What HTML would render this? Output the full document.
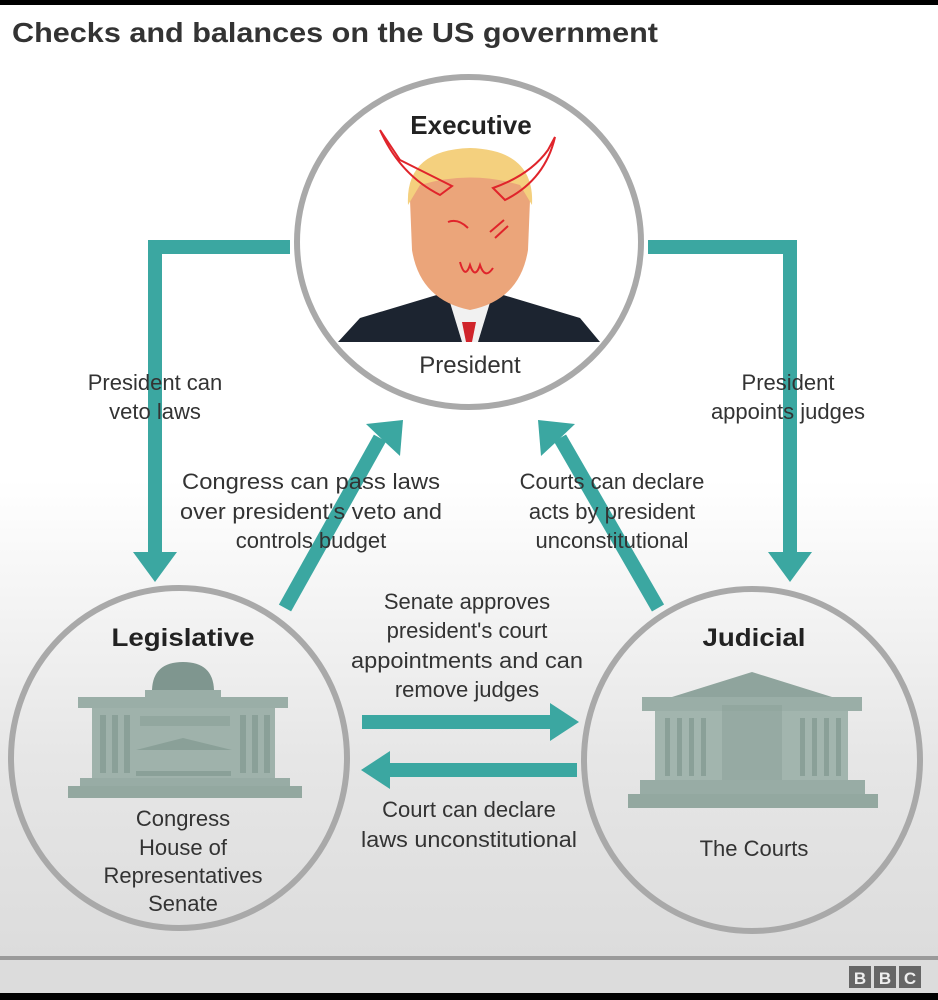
<!DOCTYPE html>
<html><head><meta charset="utf-8"><style>
html,body{margin:0;padding:0}
body{width:938px;height:1000px;overflow:hidden;position:relative;font-family:"Liberation Sans",sans-serif;background:linear-gradient(#fff 0,#fff 480px,#e6e6e6 760px,#dcdcdc 960px)}
svg{position:absolute;left:0;top:0}
</style></head><body>
<svg width="938" height="1000" viewBox="0 0 938 1000" font-family="Liberation Sans, sans-serif">
<rect x="0" y="0" width="938" height="5" fill="#000"/>
<text x="12" y="42" font-size="28" font-weight="bold" fill="#333" textLength="646" lengthAdjust="spacingAndGlyphs">Checks and balances on the US government</text>

<!-- teal arrows -->
<g fill="none" stroke="#3ba7a1" stroke-width="14">
<polyline points="290,247 155,247 155,565"/>
<polyline points="648,247 790,247 790,565"/>
<line x1="285" y1="608" x2="380" y2="438"/>
<line x1="658" y1="608" x2="560" y2="438"/>
<line x1="362" y1="722" x2="560" y2="722"/>
<line x1="577" y1="770" x2="380" y2="770"/>
</g>
<g fill="#3ba7a1">
<polygon points="133,552 177,552 155,582"/>
<polygon points="768,552 812,552 790,582"/>
<polygon points="366,424 403,420 400,456 386,443"/>
<polygon points="575,424 538,420 541,456 555,443"/>
<polygon points="550,703 579,722 550,741"/>
<polygon points="390,751 361,770 390,789"/>
</g>

<!-- circles -->
<g fill="none" stroke="#a9a9a9" stroke-width="6">
<ellipse cx="469" cy="242" rx="172" ry="165" fill="#fff"/>
<ellipse cx="179" cy="758" rx="168" ry="170"/>
<ellipse cx="752" cy="760" rx="168" ry="171"/>
</g>

<!-- president -->
<path d="M338,342 L360,318 L440,294 L500,294 L580,318 L600,342 Z" fill="#1c2430"/>
<polygon points="448,296 492,296 478,342 462,342" fill="#f1f1f1"/>
<polygon points="462,322 476,322 472,342 466,342" fill="#d0242b"/>
<path d="M410,200 Q410,155 470,152 Q530,155 530,200 L528,250 Q520,300 470,310 Q420,300 412,250 Z" fill="#eba57a"/>
<path d="M408,205 Q405,150 470,148 Q535,150 532,205 L520,185 Q470,170 420,185 Z" fill="#f4d07e"/>
<g fill="none" stroke="#e0242b" stroke-width="2">
<path d="M380,130 Q400,175 440,195 L452,186 Q420,170 400,160 Z"/>
<path d="M555,137 Q545,180 505,200 L493,188 Q530,175 548,150 Z"/>
<path d="M448,222 Q458,218 468,228"/>
<path d="M490,232 L504,220 M495,238 L508,226"/>
<path d="M460,262 Q465,280 470,265 Q475,280 480,265 Q485,280 493,268"/>
</g>
<text x="471" y="134" font-size="26" font-weight="bold" fill="#222" text-anchor="middle">Executive</text>
<text x="470" y="373" font-size="24" fill="#333" text-anchor="middle">President</text>

<!-- capitol -->
<g>
<path d="M152,690 Q153,662 183,662 Q213,662 214,690 Z" fill="#7f968f"/>
<rect x="145" y="690" width="76" height="10" fill="#9aaea7"/>
<rect x="78" y="697" width="210" height="11" fill="#9aaea7"/>
<rect x="92" y="708" width="183" height="70" fill="#9fb2ab"/>
<g fill="#8aa098"><rect x="100" y="715" width="6" height="58"/><rect x="112" y="715" width="6" height="58"/><rect x="124" y="715" width="6" height="58"/><rect x="240" y="715" width="6" height="58"/><rect x="252" y="715" width="6" height="58"/><rect x="264" y="715" width="6" height="58"/>
<rect x="140" y="716" width="90" height="10" opacity=".6"/></g>
<polygon points="136,750 183,738 232,750" fill="#8aa098"/>
<rect x="136" y="771" width="95" height="5" fill="#8aa098"/>
<rect x="80" y="778" width="210" height="8" fill="#98aca5"/>
<rect x="68" y="786" width="234" height="12" fill="#93a8a0"/>
</g>
<text x="183" y="646" font-size="25" font-weight="bold" fill="#222" text-anchor="middle" textLength="143" lengthAdjust="spacingAndGlyphs">Legislative</text>
<g font-size="22" fill="#333" text-anchor="middle">
<text x="183" y="826">Congress</text><text x="183" y="855">House of</text>
<text x="183" y="883">Representatives</text><text x="183" y="911">Senate</text>
</g>

<!-- courts -->
<g>
<polygon points="752,672 832,697 672,697" fill="#8fa49d"/>
<rect x="642" y="697" width="220" height="14" fill="#9aaea7"/>
<rect x="655" y="711" width="193" height="69" fill="#a2b5ae"/>
<g fill="#8aa098"><rect x="665" y="718" width="5" height="58"/><rect x="677" y="718" width="5" height="58"/><rect x="689" y="718" width="5" height="58"/><rect x="701" y="718" width="5" height="58"/>
<rect x="800" y="718" width="5" height="58"/><rect x="812" y="718" width="5" height="58"/><rect x="824" y="718" width="5" height="58"/><rect x="836" y="718" width="5" height="58"/>
<rect x="722" y="705" width="60" height="75" opacity=".5"/></g>
<rect x="640" y="780" width="225" height="14" fill="#98aca5"/>
<rect x="628" y="794" width="250" height="14" fill="#93a8a0"/>
</g>
<text x="754" y="646" font-size="25" font-weight="bold" fill="#222" text-anchor="middle" textLength="103" lengthAdjust="spacingAndGlyphs">Judicial</text>
<text x="754" y="856" font-size="22" fill="#333" text-anchor="middle">The Courts</text>

<!-- labels -->
<g font-size="22" fill="#333" text-anchor="middle">
<text x="155" y="390">President can</text><text x="155" y="419">veto laws</text>
<text x="788" y="390">President</text><text x="788" y="419">appoints judges</text>
<text x="311" y="489" textLength="258" lengthAdjust="spacingAndGlyphs">Congress can pass laws</text><text x="311" y="519" textLength="262" lengthAdjust="spacingAndGlyphs">over president's veto and</text><text x="311" y="548">controls budget</text>
<text x="612" y="489">Courts can declare</text><text x="612" y="519">acts by president</text><text x="612" y="548">unconstitutional</text>
<text x="467" y="609">Senate approves</text><text x="467" y="638">president's court</text><text x="467" y="668" textLength="232" lengthAdjust="spacingAndGlyphs">appointments and can</text><text x="467" y="697">remove judges</text>
<text x="469" y="817">Court can declare</text><text x="469" y="847" textLength="216" lengthAdjust="spacingAndGlyphs">laws unconstitutional</text>
</g>

<rect x="0" y="956" width="938" height="4" fill="#9a9a9a"/>
<g font-size="17" font-weight="bold" fill="#eee" text-anchor="middle">
<rect x="849" y="966" width="22" height="22" fill="#666"/><text x="860" y="984">B</text>
<rect x="874" y="966" width="22" height="22" fill="#666"/><text x="885" y="984">B</text>
<rect x="899" y="966" width="22" height="22" fill="#666"/><text x="910" y="984">C</text>
</g>
<rect x="0" y="993" width="938" height="7" fill="#000"/>
</svg>
</body></html>
